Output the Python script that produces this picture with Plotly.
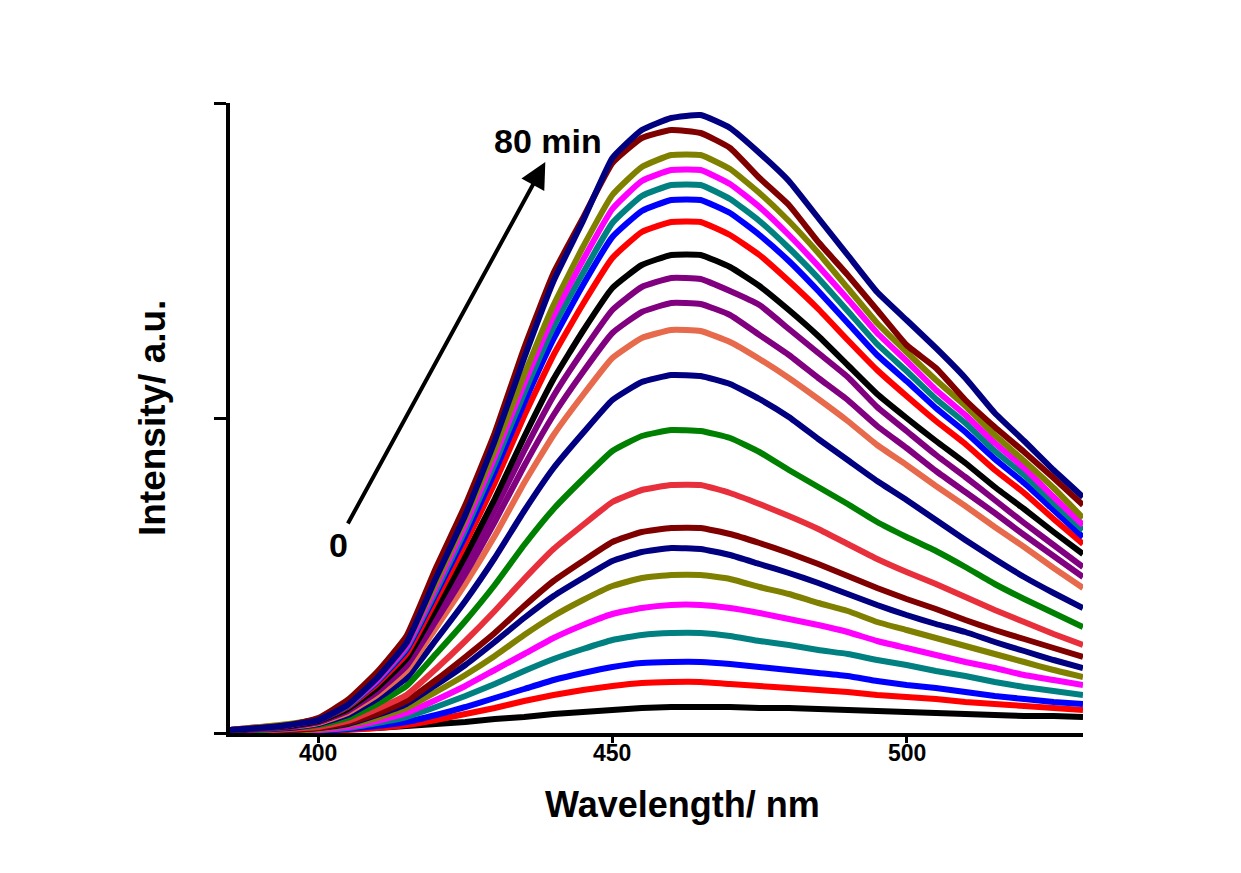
import plotly.graph_objects as go

wavelength = [385, 390, 395, 400, 405, 410, 415, 420, 425, 430, 435, 440, 445, 450, 455,
              460, 465, 470, 475, 480, 485, 490, 495, 500, 505, 510, 515, 520, 525, 530]

c00 = [1, 1, 2, 3, 4, 5, 7, 9, 11, 14, 16, 19, 21, 23, 25, 26, 26, 26, 25, 25, 24, 23, 22, 21, 20, 19, 18, 17, 17, 16]
c01 = [1, 1, 1, 2, 3, 5, 8, 13, 19, 25, 32, 38, 43, 47, 50, 51, 51, 49, 47, 45, 43, 41, 38, 36, 34, 31, 29, 27, 25, 23]
c02 = [1, 1, 1, 2, 4, 7, 11, 18, 26, 35, 44, 53, 60, 66, 70, 71, 71, 69, 66, 63, 60, 57, 52, 48, 45, 41, 37, 34, 31, 29]
c03 = [1, 1, 2, 3, 5, 10, 16, 26, 37, 49, 62, 74, 84, 93, 98, 100, 100, 97, 92, 88, 83, 79, 73, 68, 62, 57, 51, 46, 42, 38]
c04 = [1, 1, 2, 3, 6, 12, 20, 33, 47, 63, 79, 95, 108, 119, 125, 128, 128, 125, 120, 114, 108, 101, 92, 85, 78, 71, 65, 58, 53, 48]
c05 = [1, 2, 2, 4, 8, 15, 25, 41, 58, 77, 98, 117, 133, 147, 155, 158, 158, 154, 146, 139, 130, 122, 111, 103, 95, 87, 79, 71, 63, 56]
c06 = [1, 2, 3, 5, 9, 18, 29, 48, 68, 91, 115, 137, 155, 172, 181, 185, 184, 178, 169, 160, 150, 139, 128, 118, 109, 101, 91, 82, 73, 65]
c07 = [1, 2, 3, 5, 10, 19, 32, 53, 76, 100, 127, 152, 172, 191, 201, 205, 205, 199, 190, 180, 169, 157, 145, 134, 124, 113, 103, 94, 85, 76]
c08 = [1, 2, 4, 6, 12, 24, 38, 64, 92, 122, 154, 184, 208, 231, 243, 248, 248, 240, 229, 217, 204, 189, 174, 161, 149, 136, 123, 111, 99, 88]
c09 = [2, 3, 5, 8, 15, 29, 47, 79, 112, 148, 188, 224, 254, 282, 297, 303, 302, 295, 281, 263, 246, 229, 211, 196, 182, 166, 149, 134, 120, 106]
c10 = [2, 4, 5, 9, 18, 34, 55, 93, 132, 175, 222, 265, 300, 333, 351, 358, 357, 349, 334, 316, 294, 273, 252, 233, 213, 193, 174, 156, 140, 125]
c11 = [2, 4, 6, 10, 20, 38, 62, 105, 149, 197, 250, 298, 338, 375, 395, 403, 402, 391, 374, 355, 334, 312, 288, 268, 247, 227, 206, 186, 165, 145]
c12 = [2, 4, 6, 11, 22, 41, 67, 112, 159, 211, 267, 318, 361, 400, 421, 430, 429, 418, 398, 378, 355, 333, 307, 285, 262, 241, 220, 198, 177, 156]
c13 = [2, 4, 7, 11, 23, 43, 71, 118, 168, 223, 282, 337, 382, 423, 446, 455, 454, 442, 428, 404, 380, 356, 326, 302, 278, 256, 233, 210, 188, 166]
c14 = [2, 5, 7, 12, 24, 45, 74, 124, 177, 234, 296, 354, 402, 445, 468, 478, 478, 466, 447, 423, 397, 368, 339, 315, 292, 270, 246, 224, 201, 179]
c15 = [3, 5, 8, 13, 26, 49, 79, 133, 189, 250, 317, 378, 429, 475, 501, 511, 511, 498, 478, 452, 424, 393, 363, 337, 312, 289, 263, 240, 214, 189]
c16 = [3, 5, 8, 13, 27, 51, 83, 139, 197, 261, 330, 394, 448, 496, 522, 533, 533, 520, 498, 472, 442, 410, 378, 352, 325, 301, 274, 250, 223, 196]
c17 = [3, 5, 8, 14, 27, 52, 85, 142, 203, 269, 340, 406, 460, 510, 537, 548, 548, 534, 512, 485, 455, 422, 389, 362, 334, 310, 282, 258, 230, 203]
c18 = [3, 6, 8, 14, 28, 53, 87, 146, 208, 276, 349, 417, 473, 524, 552, 563, 563, 549, 526, 498, 467, 434, 400, 372, 343, 318, 290, 265, 236, 208]
c19 = [3, 6, 9, 14, 29, 55, 90, 150, 214, 283, 358, 428, 486, 538, 566, 578, 578, 564, 540, 512, 480, 445, 410, 381, 353, 327, 298, 272, 245, 215]
c20 = [3, 5, 8, 15, 33, 61, 97, 165, 228, 300, 385, 460, 515, 570, 595, 603, 600, 585, 555, 528, 491, 458, 423, 388, 365, 333, 306, 281, 255, 228]
c21 = [3, 5, 8, 13, 28, 55, 90, 155, 218, 292, 375, 452, 512, 575, 603, 615, 618, 605, 580, 552, 515, 478, 441, 413, 385, 355, 320, 292, 263, 236]

curves = [c00, c01, c02, c03, c04, c05, c06, c07, c08, c09, c10,
          c11, c12, c13, c14, c15, c16, c17, c18, c19, c20, c21]

colors = ["#000000", "#FF0000", "#0000FF", "#008080", "#FF00FF", "#808000", "#000080",
          "#800000", "#E8303C", "#008000", "#000080", "#E66A4B", "#800080", "#800080",
          "#000000", "#FF0000", "#0000FF", "#008080", "#FF00FF", "#808000", "#800000", "#000080"]

x_ticks = [400, 450, 500]
y_ticks = [0, 315, 630]

FONT = "Arial, 'Liberation Sans', sans-serif"

fig = go.Figure()
for i, (ys, col) in enumerate(zip(curves, colors)):
    fig.add_trace(go.Scatter(x=wavelength, y=ys, mode="lines",
                             line=dict(color=col, width=6, shape="spline", smoothing=0.4),
                             showlegend=False, hoverinfo="skip"))

tick_label_annotations = [
    dict(x=v, y=-0.031, xref="x", yref="paper", text=f"<b>{v}</b>", showarrow=False,
         font=dict(size=23, family=FONT), xanchor="center", yanchor="middle")
    for v in x_ticks
]

fig.update_layout(
    width=1241, height=873,
    margin=dict(l=230, r=158, t=103, b=140),
    paper_bgcolor="white", plot_bgcolor="white",
    font=dict(family=FONT, color="black"),
    xaxis=dict(range=[385, 530], showline=True, linewidth=4, linecolor="black",
               ticks="outside", ticklen=6, tickwidth=3, tickcolor="black",
               tickvals=x_ticks, showticklabels=False,
               showgrid=False, zeroline=False, mirror=False),
    yaxis=dict(range=[0, 630], showline=True, linewidth=4, linecolor="black",
               ticks="outside", ticklen=12, tickwidth=3, tickcolor="black",
               tickvals=y_ticks, showticklabels=False, showgrid=False, zeroline=False),
    annotations=tick_label_annotations + [
        dict(xref="paper", yref="paper", x=0.531, y=-0.113, text="<b>Wavelength/ nm</b>",
             showarrow=False, font=dict(size=36, family=FONT), xanchor="center", yanchor="middle"),
        dict(xref="paper", yref="paper", x=-0.0914, y=0.5, text="<b>Intensity/ a.u.</b>",
             showarrow=False, font=dict(size=37, family=FONT), textangle=-90,
             xanchor="center", yanchor="middle"),
        dict(x=438.6, y=571, ax=404.9, ay=208, xref="x", yref="y", axref="x", ayref="y",
             text="", showarrow=True, arrowhead=2, arrowsize=1.3, arrowwidth=4, arrowcolor="black"),
        dict(x=439.1, y=592, xref="x", yref="y", text="<b>80 min</b>", showarrow=False,
             font=dict(size=34, family=FONT), xanchor="center", yanchor="middle"),
        dict(x=403.4, y=188, xref="x", yref="y", text="<b>0</b>", showarrow=False,
             font=dict(size=34, family=FONT), xanchor="center", yanchor="middle"),
    ],
)

fig.write_html("out.html")
